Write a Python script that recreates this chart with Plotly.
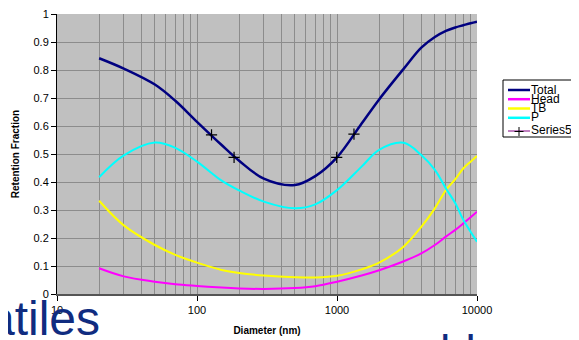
import plotly.graph_objects as go

# ---- data ----
diameter_nm = [20, 30, 50, 70, 100, 150, 200, 300, 500, 700, 1000, 1500, 2000,
               3000, 4000, 5000, 6000, 7000, 8000, 9000, 10000]
total = [0.842, 0.805, 0.748, 0.690, 0.615, 0.532, 0.476, 0.412, 0.389, 0.421, 0.488,
         0.609, 0.695, 0.805, 0.880, 0.918, 0.940, 0.952, 0.960, 0.967, 0.9725]
head = [0.092, 0.063, 0.044, 0.035, 0.029, 0.023, 0.020, 0.018, 0.021, 0.028, 0.044,
        0.066, 0.085, 0.117, 0.145, 0.175, 0.205, 0.229, 0.2525, 0.274, 0.294]
tb = [0.333, 0.245, 0.175, 0.140, 0.112, 0.086, 0.075, 0.066, 0.060, 0.059, 0.065,
      0.088, 0.112, 0.170, 0.240, 0.306, 0.371, 0.410, 0.449, 0.4725, 0.493]
p = [0.417, 0.495, 0.541, 0.522, 0.473, 0.405, 0.370, 0.330, 0.306, 0.320, 0.371,
     0.455, 0.515, 0.540, 0.496, 0.443, 0.377, 0.324, 0.264, 0.2225, 0.187]
series5_x = [127, 184, 995, 1322]
series5_y = [0.568, 0.488, 0.488, 0.571]

x_tick_vals = [10, 100, 1000, 10000]
x_tick_text = ["10", "100", "1000", "10000"]
y_tick_vals = [0, 0.1, 0.2, 0.3, 0.4, 0.5, 0.6, 0.7, 0.8, 0.9, 1]
y_tick_text = ["0", "0.1", "0.2", "0.3", "0.4", "0.5", "0.6", "0.7", "0.8", "0.9", "1"]

series = [
    ("Total", total, "#000080", 2.5),
    ("Head", head, "#FF00FF", 2),
    ("TB", tb, "#FFFF00", 2),
    ("P", p, "#00FFFF", 2),
]

FONT = "Arial, Liberation Sans, sans-serif"

fig = go.Figure()
for name, vals, color, w in series:
    fig.add_trace(go.Scatter(x=diameter_nm, y=vals, mode="lines", name=name,
                             line=dict(color=color, width=w, shape="spline", smoothing=1),
                             showlegend=False))
fig.add_trace(go.Scatter(x=series5_x, y=series5_y, mode="markers", name="Series5",
                         marker=dict(symbol="cross-thin", size=8, color="black",
                                     line=dict(color="black", width=1.2)),
                         showlegend=False))

# ---- layout (the page body has an 8px margin, so the figure is offset) ----
OFF = 8
W, H = 579 - OFF, 340 - OFF
ML, MT = 57 - OFF, 14 - OFF
MR = W - (477 - OFF)
MB = H - (294 - OFF)
PW, PH = W - ML - MR, H - MT - MB


def px(xp):
    """page pixel x -> paper x"""
    return (xp - OFF - ML) / PW


def py(yp):
    """page pixel y -> paper y"""
    return (H - MB - (yp - OFF)) / PH


fig.update_layout(
    width=W, height=H,
    margin=dict(l=ML, r=MR, t=MT, b=MB, pad=0, autoexpand=False),
    paper_bgcolor="white", plot_bgcolor="#C0C0C0",
    font=dict(family=FONT, color="black", size=11),
    showlegend=False,
)
fig.update_xaxes(
    type="log", range=[1, 4], automargin=False, ticklabeloverflow="allow",
    tickvals=x_tick_vals, ticktext=x_tick_text,
    ticks="outside", ticklen=5, tickcolor="black", tickfont=dict(size=11),
    showline=True, linecolor="#555555", linewidth=2,
    showgrid=True, gridcolor="#8C8C8C", gridwidth=1,
    minor=dict(dtick="D1", showgrid=True, gridcolor="#8C8C8C", gridwidth=1),
    zeroline=False,
    title=dict(text="<b>Diameter (nm)</b>", font=dict(size=10), standoff=12),
)
fig.update_yaxes(
    range=[0, 1], automargin=False, ticklabeloverflow="allow",
    tickvals=y_tick_vals, ticktext=y_tick_text,
    ticks="outside", ticklen=5, tickcolor="black", tickfont=dict(size=11),
    showline=True, linecolor="black", linewidth=1,
    showgrid=True, gridcolor="#8C8C8C", gridwidth=1, zeroline=False,
    title=dict(text="<b>Retention Fraction</b>", font=dict(size=10), standoff=12),
)

# ---- custom compact legend ----
shapes = [dict(type="rect", xref="paper", yref="paper",
               x0=px(503), x1=px(576), y0=py(137), y1=py(80),
               line=dict(color="black", width=1), fillcolor="white", layer="above")]
annotations = []
legend_rows = [("Total", "#000080", 89.5), ("Head", "#FF00FF", 98.7),
               ("TB", "#FFFF00", 108), ("P", "#00FFFF", 117.3), ("Series5", "#800080", 130.5)]
for name, color, yc in legend_rows:
    shapes.append(dict(type="line", xref="paper", yref="paper",
                       x0=px(508), x1=px(530), y0=py(yc + 0.5), y1=py(yc + 0.5),
                       line=dict(color=color, width=2.5 if name != "Series5" else 1),
                       layer="above"))
    annotations.append(dict(text=name, xref="paper", yref="paper", x=px(529), y=py(yc),
                            xanchor="left", yanchor="middle", showarrow=False,
                            font=dict(size=12, family=FONT, color="black")))
# plus marker in legend
shapes.append(dict(type="line", xref="paper", yref="paper", x0=px(519), x1=px(519),
                   y0=py(136), y1=py(127), line=dict(color="black", width=1), layer="above"))
shapes.append(dict(type="line", xref="paper", yref="paper", x0=px(514.5), x1=px(523.5),
                   y0=py(131.5), y1=py(131.5), line=dict(color="black", width=1), layer="above"))

# ---- stray slide text fragments ----
annotations.append(dict(text="atiles", xref="paper", yref="paper", x=px(102), y=py(347),
                        xanchor="right", yanchor="bottom", showarrow=False,
                        font=dict(size=48, family=FONT, color="#102C80")))
annotations.append(dict(text="hl", xref="paper", yref="paper", x=px(438), y=py(324),
                        xanchor="left", yanchor="top", showarrow=False,
                        font=dict(size=46, family=FONT, color="#102C80")))

fig.update_layout(shapes=shapes, annotations=annotations)

fig.write_html("out.html")
